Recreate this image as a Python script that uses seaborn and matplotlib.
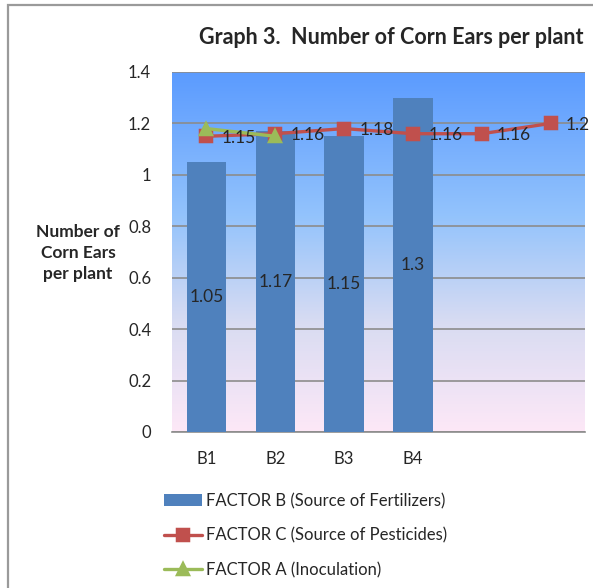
import numpy as np
import pandas as pd
import seaborn as sns
import matplotlib.pyplot as plt
from matplotlib.colors import LinearSegmentedColormap
from matplotlib.patches import Rectangle

sns.set_style("white")
plt.rcParams['font.family'] = ['Lato', 'DejaVu Sans']

# data
categories = ["B1", "B2", "B3", "B4", "C5", "C6"]
tick_labels = ["B1", "B2", "B3", "B4", "", ""]
factor_b = [1.05, 1.17, 1.15, 1.3]
factor_c = [1.15, 1.16, 1.18, 1.16, 1.16, 1.2]
factor_a = [1.18, 1.15]

bars = pd.DataFrame({"cat": categories[:4], "val": factor_b})
line_c = pd.DataFrame({"cat": categories, "val": factor_c})
line_a = pd.DataFrame({"cat": categories[:2], "val": factor_a})

fig = plt.figure(figsize=(5.93, 5.88), dpi=100)
ax = fig.add_axes([172 / 593, 1 - 432 / 588, 413 / 593, 360 / 588])

# gradient background
cmap = LinearSegmentedColormap.from_list(
    "bg", [(0.0, "#fde8f7"), (0.3, "#d9dcf2"), (0.6, "#93c3fc"), (1.0, "#5b9bff")])
grad = np.linspace(0, 1, 256).reshape(-1, 1)
ax.imshow(grad, cmap=cmap, origin="lower", aspect="auto",
          extent=(-0.5, 5.5, 0, 1.4), zorder=0)

sns.barplot(data=bars, x="cat", y="val", order=categories, color="#4f81bd",
            saturation=1, width=0.57, linewidth=0, ax=ax, zorder=3,
            label="FACTOR B (Source of Fertilizers)")
sns.pointplot(data=line_c, x="cat", y="val", order=categories, color="#c0504d",
              markers="s", markersize=8, linewidth=2.4, errorbar=None, ax=ax,
              label="FACTOR C (Source of Pesticides)")
sns.pointplot(data=line_a, x="cat", y="val", order=categories, color="#9bbb59",
              markers="^", markersize=8, linewidth=2.4, errorbar=None, ax=ax,
              label="FACTOR A (Inoculation)")

for coll in ax.collections + ax.lines:
    coll.set_zorder(4)
ax.lines[-1].set_zorder(5)

ax.bar_label(ax.containers[0], fmt="%g", label_type="center", fontsize=12.5, zorder=6)
for i, v in enumerate(factor_c):
    ax.annotate(f"{v:g}", (i, v), xytext=(11, -1), textcoords="offset points",
                ha="left", va="center", fontsize=12.5, annotation_clip=False, zorder=7)

ax.set_xlim(-0.5, 5.5)
ax.set_ylim(0, 1.4)
ax.set_yticks(np.arange(0, 1.41, 0.2))
ax.set_yticklabels(["0", "0.2", "0.4", "0.6", "0.8", "1", "1.2", "1.4"])
ax.set_xticks(range(6))
ax.set_xticklabels(tick_labels)
ax.yaxis.grid(True, color="#8c8c8c", linewidth=1.2, zorder=1)
ax.set_axisbelow(True)
ax.tick_params(axis="y", length=2, color="#8c8c8c", pad=13, labelsize=12)
ax.tick_params(axis="x", length=0, pad=14, labelsize=12)
ax.set_xlabel("")
ax.set_ylabel("")
for s in ["top", "right", "left"]:
    ax.spines[s].set_visible(False)
ax.spines["bottom"].set_color("#8c8c8c")
ax.spines["bottom"].set_linewidth(1.2)
if ax.get_legend():
    ax.get_legend().remove()

fig.text(391 / 593, 1 - 38 / 588, "Graph 3.  Number of Corn Ears per plant",
         ha="center", va="center", fontsize=15.5, fontweight="bold")
fig.text(78 / 593, 1 - 253 / 588, "Number of\nCorn Ears\nper plant",
         ha="center", va="center", fontsize=12.5, fontweight="bold", linespacing=1.4)

handles, labels = ax.get_legend_handles_labels()
order = [labels.index("FACTOR B (Source of Fertilizers)"),
         labels.index("FACTOR C (Source of Pesticides)"),
         labels.index("FACTOR A (Inoculation)")]
fig.legend([handles[i] for i in order], [labels[i] for i in order],
           loc="upper left", bbox_to_anchor=(149 / 593, 1 - 478 / 588),
           frameon=False, fontsize=12, handlelength=2.3, labelspacing=1.1,
           handletextpad=0.25)

fig.patches.append(Rectangle((8 / 593, -0.1), 1.2, 1 - 5 / 588 + 0.1, transform=fig.transFigure,
                             fill=False, edgecolor="#9a9a9a", linewidth=1.6))

fig.savefig("out.png", dpi=100)
